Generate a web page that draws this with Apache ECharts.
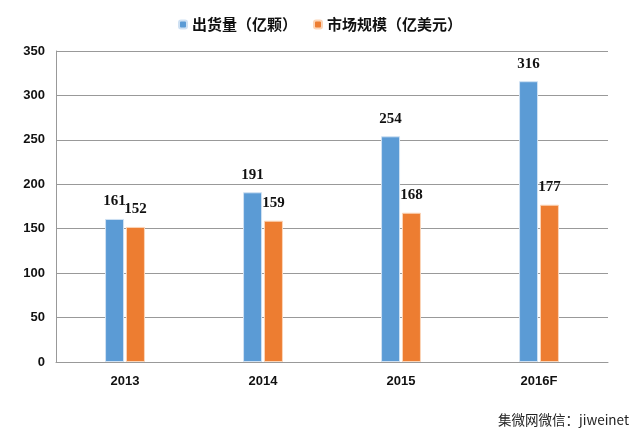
<!DOCTYPE html>
<html>
<head>
<meta charset="utf-8">
<script src="https://cdn.jsdelivr.net/npm/echarts@6/dist/echarts.min.js"></script>
<style>
html,body{margin:0;padding:0;background:#fff;}
#c{width:640px;height:437px;}
</style>
</head>
<body>
<div id="c"></div>
<script>
var categories = ['2013', '2014', '2015', '2016F'];
var shipments = [161, 191, 254, 316];
var marketSize = [152, 159, 168, 177];
var seriesNames = ['出货量（亿颗）', '市场规模（亿美元）'];
var yTicks = [0, 50, 100, 150, 200, 250, 300, 350];
var sourceText = '集微网微信：jiweinet';

var chart = echarts.init(document.getElementById('c'));
var labelStyle = {
  show: true,
  position: 'top',
  distance: 10,
  color: '#111',
  fontFamily: '"Liberation Serif", serif',
  fontWeight: 'bold',
  fontSize: 15
};
chart.setOption({
  animation: false,
  backgroundColor: '#fff',
  legend: {
    top: 12,
    left: 'center',
    itemWidth: 8,
    itemHeight: 8,
    itemGap: 16,
    textStyle: {fontSize: 15, fontWeight: 'bold', color: '#111', fontFamily: '"Noto Sans CJK SC", sans-serif'},
    data: seriesNames
  },
  grid: {left: 56, right: 32, top: 51, bottom: 75},
  xAxis: {
    type: 'category',
    data: categories,
    axisLine: {lineStyle: {color: '#999', width: 1}},
    axisTick: {show: false},
    axisLabel: {color: '#111', fontSize: 13, fontWeight: 'bold', fontFamily: 'Arial, "Liberation Sans", sans-serif', margin: 13}
  },
  yAxis: {
    type: 'value',
    min: yTicks[0],
    max: yTicks[yTicks.length - 1],
    interval: 50,
    axisLine: {show: true, lineStyle: {color: '#999', width: 1}},
    axisTick: {show: false},
    splitLine: {lineStyle: {color: '#999', width: 1}},
    axisLabel: {color: '#111', fontSize: 13, fontWeight: 'bold', fontFamily: 'Arial, "Liberation Sans", sans-serif', margin: 11}
  },
  graphic: [{
    type: 'text',
    right: 11,
    top: 413,
    style: {text: sourceText, fontSize: 13.5, fill: '#222', fontFamily: '"Noto Sans CJK SC", sans-serif'}
  }],
  series: [{
    name: seriesNames[0],
    type: 'bar',
    data: shipments,
    barWidth: 19,
    barGap: '10%',
    itemStyle: {color: '#5b9bd5', borderColor: '#cfe1f3', borderWidth: 1},
    label: labelStyle
  }, {
    name: seriesNames[1],
    type: 'bar',
    data: marketSize,
    barWidth: 19,
    itemStyle: {color: '#ed7d31', borderColor: '#fbd5b8', borderWidth: 1},
    label: labelStyle
  }]
});
</script>
</body>
</html>
